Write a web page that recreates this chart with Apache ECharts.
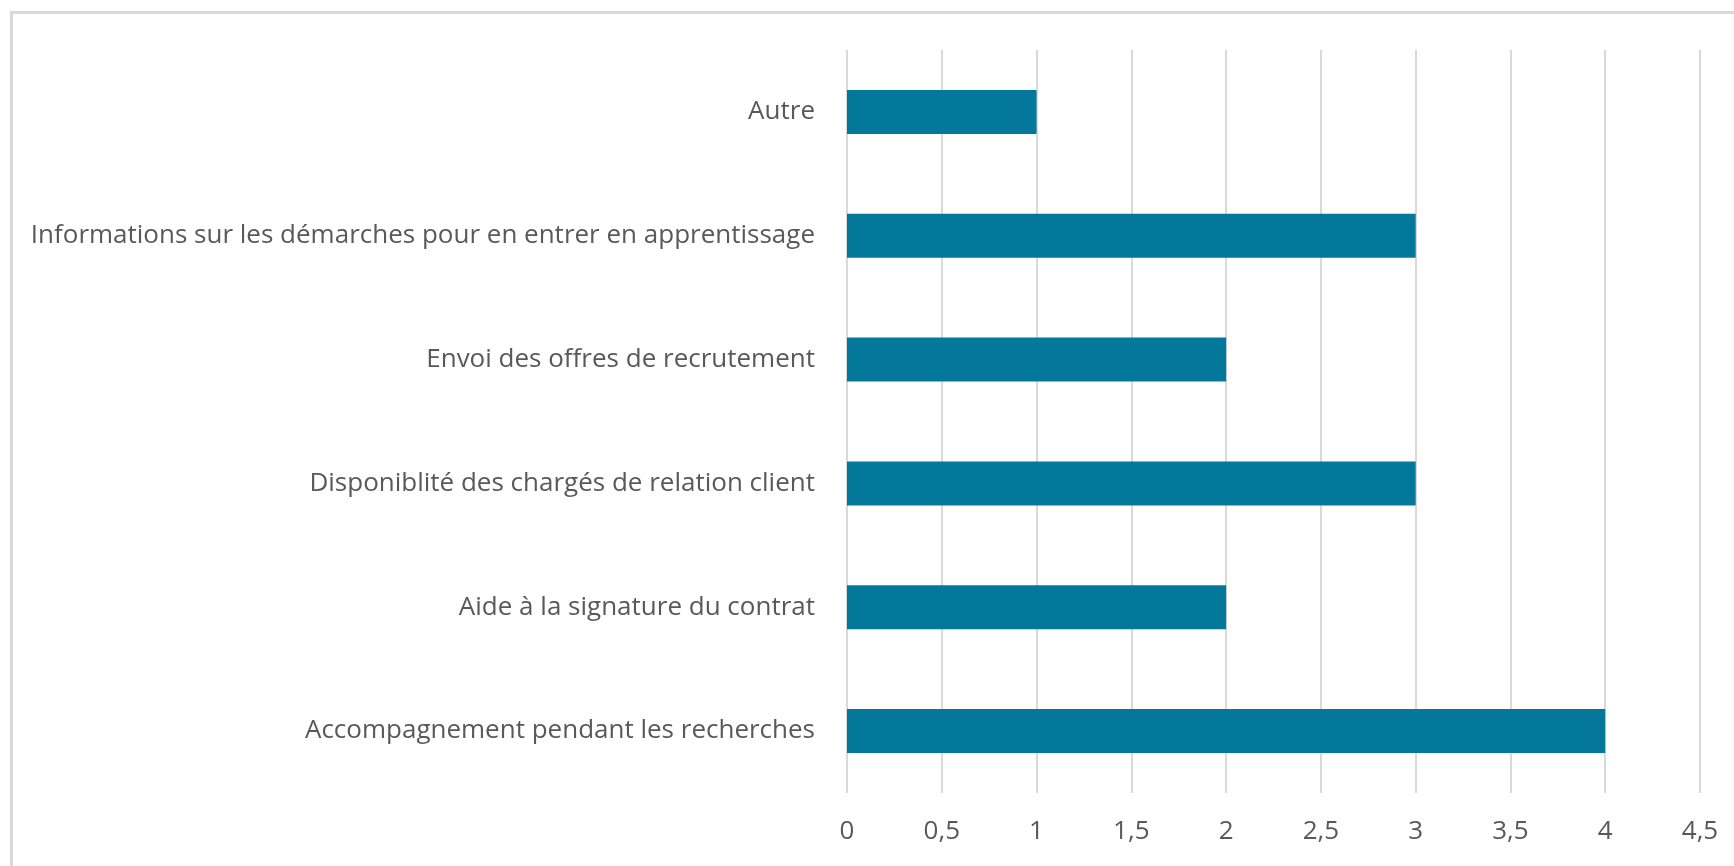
<!DOCTYPE html>
<html>
<head>
<meta charset="utf-8">
<script src="https://cdn.jsdelivr.net/npm/echarts@6/dist/echarts.min.js"></script>
<style>
  html, body { margin: 0; padding: 0; background: #fff; }
  #chart { width: 1734px; height: 866px; }
</style>
</head>
<body>
<div id="chart"></div>
<script>
const categories = [
  "Autre",
  "Informations sur les démarches pour en entrer en apprentissage",
  "Envoi des offres de recrutement",
  "Disponiblité des chargés de relation client",
  "Aide à la signature du contrat",
  "Accompagnement pendant les recherches",
];
const values = [1, 3, 2, 3, 2, 4];

const font = "'Open Sans', 'Liberation Sans', sans-serif";
const chart = echarts.init(document.getElementById("chart"), null, { renderer: "canvas" });

chart.setOption({
  animation: false,
  backgroundColor: "#fff",
  graphic: [
    {
      type: "rect",
      shape: { x: 11.5, y: 12.5, width: 3000, height: 3000 },
      style: { fill: "none", stroke: "#d9d9d9", lineWidth: 3 },
      silent: true,
    },
  ],
  grid: { left: 847, right: 34, top: 50, bottom: 73 },
  xAxis: {
    type: "value",
    min: 0,
    max: 4.5,
    interval: 0.5,
    axisLine: { show: false },
    axisTick: { show: false },
    splitLine: { show: true, lineStyle: { color: "#d9d9d9", width: 2 } },
    axisLabel: {
      color: "#595959",
      fontFamily: font,
      fontSize: 26,
      margin: 26,
      formatter: (v) => String(v).replace(".", ","),
    },
  },
  yAxis: {
    type: "category",
    data: categories,
    inverse: true,
    axisLine: { show: false },
    axisTick: { show: false },
    axisLabel: {
      color: "#595959",
      fontFamily: font,
      fontSize: 26,
      margin: 32,
    },
  },
  series: [
    {
      type: "bar",
      data: values,
      barWidth: "35.5%",
      itemStyle: { color: "#04789a" },
    },
  ],
});
</script>
</body>
</html>
